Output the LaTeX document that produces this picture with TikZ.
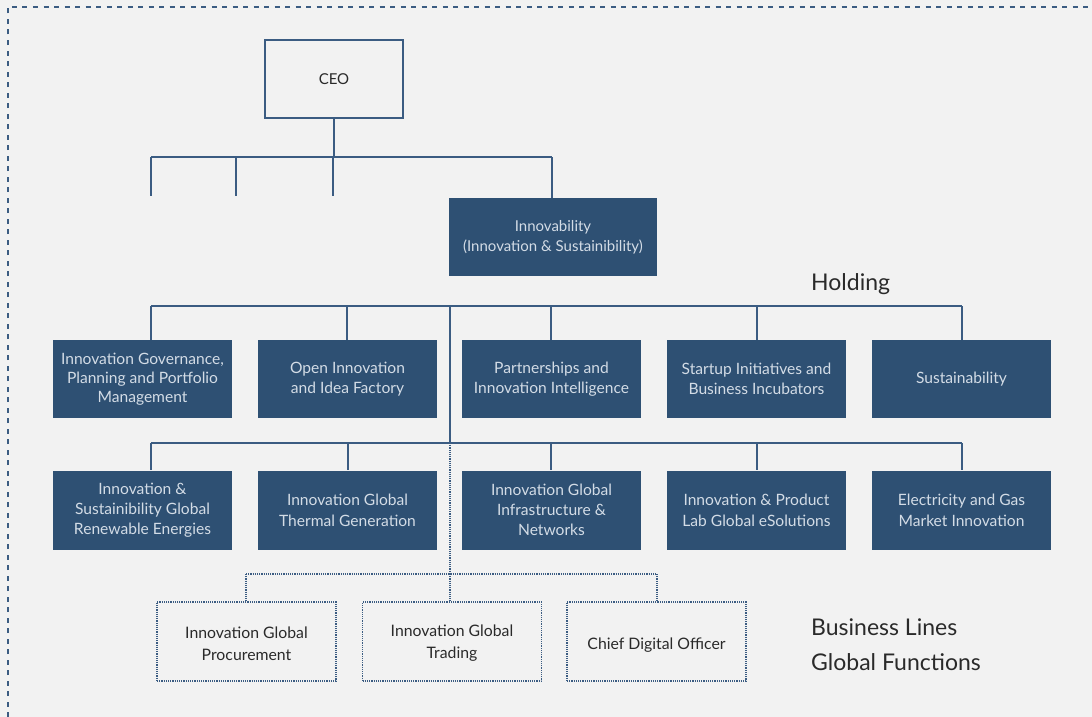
\documentclass[tikz,border=0pt]{standalone}
\usepackage{fontspec}
\setmainfont{Lato}
\definecolor{bg}{HTML}{F2F2F2}
\definecolor{boxblue}{HTML}{2E5073}
\definecolor{linec}{HTML}{3B5C82}
\definecolor{boxtext}{HTML}{D3DCE6}
\definecolor{darktext}{HTML}{2A2A2A}
\newcommand{\lowertext}[2]{\raisebox{-#1}[\height][\depth]{#2}}
\begin{document}
\begin{tikzpicture}[x=1pt,y=-1pt,
  conn/.style={draw=linec,line width=1.3pt},
  dotconn/.style={draw=linec,line width=1.2pt,densely dotted},
  unit/.style={rectangle,fill=boxblue,text=boxtext,minimum width=179pt,minimum height=78pt,
    align=center,inner sep=2pt,font=\fontsize{15.6}{20}\selectfont},
  gfunc/.style={rectangle,draw=linec,densely dotted,line width=1.2pt,fill=bg,text=darktext,
    minimum width=179pt,minimum height=79pt,align=center,inner sep=2pt,font=\fontsize{15.8}{22}\selectfont},
  ceobox/.style={rectangle,draw=linec,line width=1.3pt,fill=bg,text=darktext,minimum width=138pt,
    minimum height=78pt,font=\fontsize{15}{20}\selectfont},
  label/.style={anchor=west,text=darktext,inner sep=0pt,font=\fontsize{23}{28}\selectfont}]
\useasboundingbox (0,0) rectangle (1092,717);
\fill[bg] (0,0) rectangle (1092,717);
\draw[linec,line width=1.3pt,dash pattern=on 5pt off 5.5pt] (8,717) -- (8,7) -- (1092,7);

% nodes
\node[ceobox] (ceo) at (334,79) {CEO};
\node[unit,minimum width=208pt,font=\fontsize{15}{20}\selectfont] (inno) at (553,237) {Innovability\\(Innovation \& Sustainibility)};

\node[unit] (r11) at (142.5,379) {Innovation Governance,\\[-1pt]Planning and Portfolio\\[-1pt]Management};
\node[unit] (r12) at (347.5,379) {Open Innovation\\and Idea Factory};
\node[unit] (r13) at (551.5,379) {Partnerships and\\Innovation Intelligence};
\node[unit] (r14) at (756.5,379) {Startup Initiatives and\\Business Incubators};
\node[unit] (r15) at (961.5,379) {Sustainability};

\node[unit,minimum height=79pt] (r21) at (142.5,510) {Innovation \&\\Sustainibility Global\\Renewable Energies};
\node[unit,minimum height=79pt] (r22) at (347.5,510) {Innovation Global\\[1pt]Thermal Generation};
\node[unit,minimum height=79pt] (r23) at (551.5,510) {Innovation Global\\Infrastructure \&\\Networks};
\node[unit,minimum height=79pt] (r24) at (756.5,510) {Innovation \& Product\\[1pt]Lab Global eSolutions};
\node[unit,minimum height=79pt] (r25) at (961.5,510) {Electricity and Gas\\[1pt]Market Innovation};

\node[gfunc] (g1) at (246.5,641.5) {\lowertext{2pt}{Innovation Global}\\\lowertext{2pt}{Procurement}};
\node[gfunc] (g2) at (452,641.5) {\lowertext{2pt}{Innovation Global}\\\lowertext{2pt}{Trading}};
\node[gfunc] (g3) at (656.5,641.5) {\lowertext{3.5pt}{Chief Digital Officer}};

\node[label] (holding) at (811,284) {Holding};
\node[label] (bl) at (811,627) {Business Lines};
\node[label] (gf) at (811,662) {Global Functions};

% CEO level bus
\coordinate (c0) at (334,157);
\coordinate (cA) at (151,157);
\coordinate (cB) at (236,157);
\coordinate (cC) at (333,157);
\coordinate (cD) at (552,157);
\draw[conn] (ceo.south) -- (c0);
\draw[conn] (cA) -- (cD);
\draw[conn] (cA) -- ++(0,39);
\draw[conn] (cB) -- ++(0,39);
\draw[conn] (cC) -- ++(0,39);
\draw[conn] (cD) -- (cD |- inno.north);

% holding bus
\coordinate (h1) at (151,306);
\coordinate (h2) at (347,306);
\coordinate (h3) at (551,306);
\coordinate (h4) at (757,306);
\coordinate (h5) at (962,306);
\coordinate (hc) at (450,306);
\draw[conn] (h1) -- (h5);
\draw[conn] (h1) -- (h1 |- r11.north);
\draw[conn] (h2) -- (h2 |- r12.north);
\draw[conn] (h3) -- (h3 |- r13.north);
\draw[conn] (h4) -- (h4 |- r14.north);
\draw[conn] (h5) -- (h5 |- r15.north);

% business lines bus
\coordinate (b1) at (151,443);
\coordinate (b2) at (348,443);
\coordinate (b3) at (551,443);
\coordinate (b4) at (757,443);
\coordinate (b5) at (962,443);
\coordinate (bc) at (450,443);
\draw[conn] (hc) -- (bc);
\draw[conn] (b1) -- (b5);
\draw[conn] (b1) -- (b1 |- r21.north);
\draw[conn] (b2) -- (b2 |- r22.north);
\draw[conn] (b3) -- (b3 |- r23.north);
\draw[conn] (b4) -- (b4 |- r24.north);
\draw[conn] (b5) -- (b5 |- r25.north);

% global functions dotted bus
\coordinate (d1) at (246,574);
\coordinate (dc) at (450,574);
\coordinate (d3) at (657,574);
\draw[dotconn] (bc) -- (dc);
\draw[dotconn] (d1) -- (d3);
\draw[dotconn] (d1) -- (d1 |- g1.north);
\draw[dotconn] (dc) -- (dc |- g2.north);
\draw[dotconn] (d3) -- (d3 |- g3.north);
\end{tikzpicture}
\end{document}
